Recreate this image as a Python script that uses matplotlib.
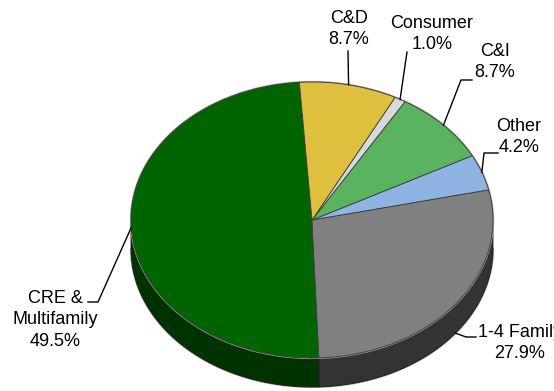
import numpy as np
import matplotlib.pyplot as plt
from matplotlib.patches import Polygon
from matplotlib import font_manager

# 数据
categories = ['CRE &\nMultifamily', '1-4 Family', 'Other', 'C&I', 'Consumer', 'C&D']
shares = [49.5, 27.9, 4.2, 8.7, 1.0, 8.7]
top_colors = ['#006400', '#808080', '#8DB4E2', '#5AB45F', '#D9D9D9', '#DEC03E']
side_colors = ['#003300', '#333333', '#5D7A9C', '#3A7A3E', '#999999', '#9C8628']

# pixel layout of the tilted pie (center, radii, thickness)
cx, cy, rx, ry, depth_px = 312, 220, 181, 138, 29
W, H = 554, 391

# narrow font if present, otherwise a smaller regular one
installed = {f.name for f in font_manager.fontManager.ttflist}
if 'Liberation Sans Narrow' in installed:
    fam, fs, ls = ['Liberation Sans Narrow', 'DejaVu Sans'], 15, 1.15
else:
    fam, fs, ls = ['Liberation Sans', 'DejaVu Sans'], 13, 1.38


def px(x, y):
    return (x - cx) / rx, (cy - y) / ry


depth = depth_px / ry

fig = plt.figure(figsize=(W / 100, H / 100), dpi=100)
ax = fig.add_axes([0, 0, 1, 1])

wedges, _ = ax.pie(shares, startangle=94, counterclock=True, colors=top_colors,
                   radius=1, center=(0, 0),
                   wedgeprops=dict(edgecolor='#3a3a3a', linewidth=0.6, zorder=3))

# side of the pie (front half only)
for w, c in zip(wedges, side_colors):
    for k in (0, 360):
        a = max(w.theta1, 180 + k)
        b = min(w.theta2, 360 + k)
        if b <= a:
            continue
        t = np.radians(np.linspace(a, b, 80))
        top = np.column_stack([np.cos(t), np.sin(t)])
        bot = np.column_stack([np.cos(t), np.sin(t) - depth])[::-1]
        ax.add_patch(Polygon(np.vstack([top, bot]), closed=True, facecolor=c,
                             edgecolor='#1a1a1a', linewidth=0.6, zorder=2))

# soft outline / shadow
t = np.radians(np.linspace(0, 360, 400))
ax.plot(np.cos(t), np.sin(t), color='#9a9a9a', lw=1.6, zorder=2.5)
t2 = np.radians(np.linspace(180, 360, 200))
ax.plot(np.cos(t2), np.sin(t2) - depth, color='#b0b0b0', lw=1.6, zorder=1)

# labels: text center (px) and leader points (px) before anchor
label_pos = {
    'CRE &\nMultifamily': ((55, 320), [(88, 302), (98, 302)]),
    '1-4 Family': ((520, 343), [(476, 337), (466, 337)]),
    'Other': ((519, 137), [(498, 153), (484, 153)]),
    'C&I': ((495, 62), [(472, 80), (461, 80)]),
    'Consumer': ((432, 34), [(407, 52)]),
    'C&D': ((349, 29), [(348, 51)]),
}

for w, name, val in zip(wedges, categories, shares):
    mid = np.radians((w.theta1 + w.theta2) / 2)
    ax_, ay_ = np.cos(mid), np.sin(mid)
    if name == '1-4 Family':
        ay_ -= depth
    (tx, ty), pts = label_pos[name]
    line = [px(*p) for p in pts] + [(ax_, ay_)]
    ax.plot([p[0] for p in line], [p[1] for p in line], color='black', lw=1.0, zorder=4)
    ax.text(*px(tx, ty), f'{name}\n{val:.1f}%', ha='center', va='center',
            multialignment='center', fontsize=fs, linespacing=ls,
            family=fam, color='black', zorder=5)

ax.set_aspect('auto')
ax.set_xlim(px(0, 0)[0], px(W, 0)[0])
ax.set_ylim(px(0, H)[1], px(0, 0)[1])
ax.axis('off')

fig.savefig('out.png', dpi=100)
